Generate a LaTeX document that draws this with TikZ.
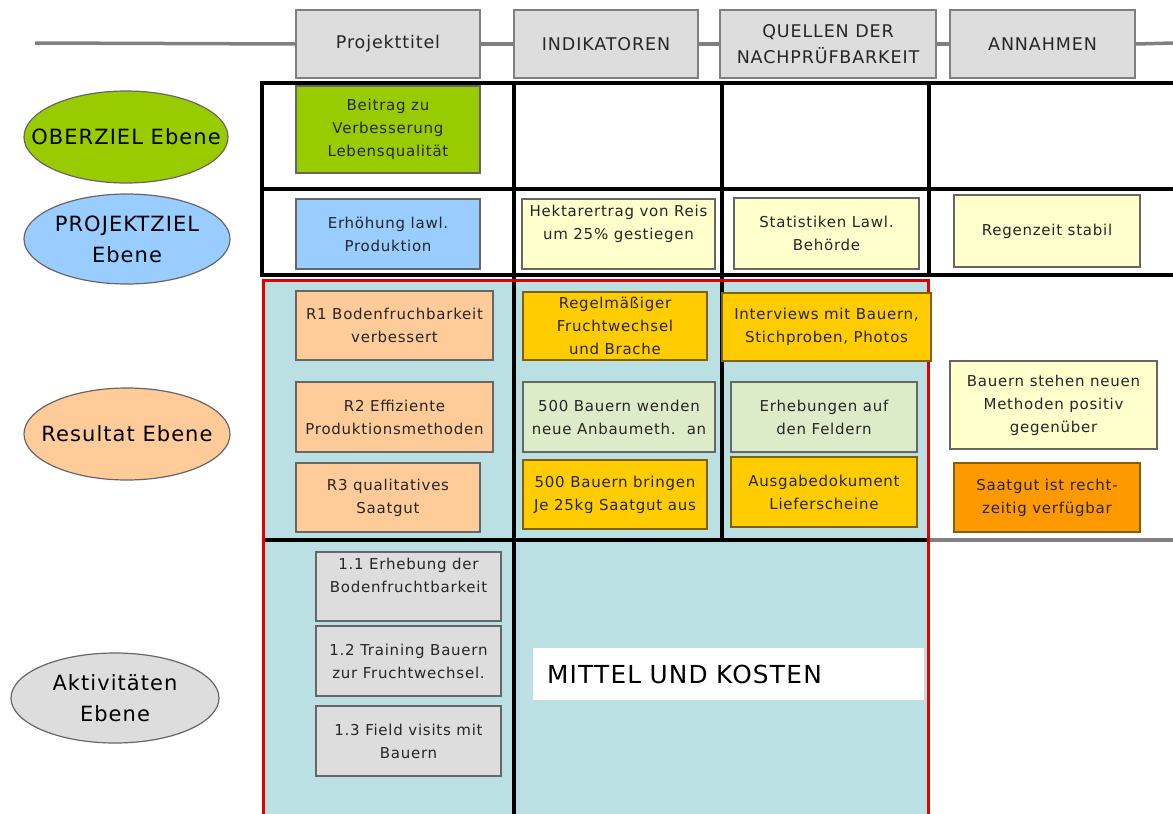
\documentclass[tikz,border=0pt]{standalone}
\usepackage{fontspec}
\setmainfont{DejaVu Sans}[LetterSpace=5]
\usetikzlibrary{shapes.geometric}
\definecolor{hdrfill}{HTML}{DDDDDD}
\definecolor{hdrline}{HTML}{7F7F7F}
\definecolor{boxline}{HTML}{666666}
\definecolor{goldline}{HTML}{806000}
\definecolor{textc}{HTML}{262626}
\definecolor{cgreen}{HTML}{99CC00}
\definecolor{cblue}{HTML}{99CCFF}
\definecolor{cpeach}{HTML}{FFCC99}
\definecolor{cpale}{HTML}{FFFFCC}
\definecolor{cgold}{HTML}{FFCC00}
\definecolor{clgreen}{HTML}{DCECC8}
\definecolor{corange}{HTML}{FF9900}
\definecolor{cgray}{HTML}{DDDDDD}
\definecolor{lblue}{HTML}{BAE0E3}
\definecolor{cred}{HTML}{E00000}
\definecolor{gridgray}{HTML}{808080}
\newcommand{\zw}[1]{\makebox[0pt]{#1}}
\begin{document}
\begin{tikzpicture}[x=1pt,y=-1pt,
  hdr/.style={rectangle, draw=hdrline, fill=hdrfill, line width=1.5pt, inner sep=0pt,
    align=center, text=textc, font=\fontsize{17.5}{26}\selectfont},
  lvl/.style={ellipse, draw=boxline, line width=1.2pt, inner sep=0pt, align=center,
    text=black, font=\fontsize{21}{31}\selectfont},
  cell/.style={rectangle, draw=boxline, line width=2pt, inner sep=0pt, align=center,
    text=textc, font=\fontsize{15}{23}\selectfont},
  goldcell/.style={cell, draw=goldline},
  gridline/.style={line width=4pt, black},
  sepline/.style={line width=3.5pt, gridgray},
  redline/.style={line width=3pt, cred}
]
\useasboundingbox (0,0) rectangle (1173,814);
\fill[white] (0,0) rectangle (1173,814);

% header
\node[hdr, minimum width=184, minimum height=68] (hP) at (388,44) {Projekttitel};
\node[hdr, minimum width=184, minimum height=68] (hI) at (606,44) {INDIKATOREN};
\node[hdr, minimum width=216, minimum height=68] (hQ) at (828,44) {QUELLEN DER\\NACHPRÜFBARKEIT};
\node[hdr, minimum width=185, minimum height=68] (hA) at (1042.5,44) {ANNAHMEN};
\coordinate (lineL) at (35,43);
\coordinate (lineR) at (1173,43);
\draw[sepline] (lineL) -- (hP.west);
\draw[sepline] (hP.east) -- (hI.west);
\draw[sepline] (hI.east) -- (hQ.west);
\draw[sepline] (hQ.east) -- (hA.west);
\draw[sepline] (hA.east) -- (lineR);

% grid
\fill[lblue] (262,280) rectangle (929,814);
\draw[gridline] (260,83) -- (1173,83);
\draw[gridline] (262,189) -- (1173,189);
\draw[gridline] (260,275) -- (1173,275);
\draw[gridline] (262,81) -- (262,277);
\draw[gridline] (514,81) -- (514,814);
\draw[gridline] (722,81) -- (722,542);
\draw[gridline] (929,81) -- (929,277);
\draw[gridline] (262,540) -- (929,540);
\draw[sepline] (929,540) -- (1173,540);
\draw[redline] (263.5,814) -- (263.5,280) -- (928,280) -- (928,814);

% level ellipses
\node[lvl, fill=cgreen, minimum width=204, minimum height=92] (eO) at (126,137) {\zw{OBERZIEL Ebene}};
\node[lvl, fill=cblue, minimum width=206, minimum height=90] (eP) at (127,239) {\zw{PROJEKTZIEL}\\\zw{Ebene}};
\node[lvl, fill=cpeach, minimum width=206, minimum height=92] (eR) at (127,434) {\zw{Resultat Ebene}};
\node[lvl, fill=cgray, minimum width=208, minimum height=90] (eA) at (115,698) {\zw{Aktivitäten}\\\zw{Ebene}};

% row 1
\node[cell, fill=cgreen, minimum width=184, minimum height=87] (bBeitrag) at (388,129.5) {Beitrag zu\\Verbesserung\\Lebensqualität};
% row 2
\node[cell, fill=cblue, minimum width=184, minimum height=70] (bErh) at (388,234) {Erhöhung lawl.\\Produktion};
\node[cell, fill=cpale, minimum width=193, minimum height=70] (bHekt) at (618.5,234) {Hektarertrag von Reis\\um 25\% gestiegen\\\mbox{}};
\node[cell, fill=cpale, minimum width=185, minimum height=71] (bStat) at (826.5,233.5) {Statistiken Lawl.\\Behörde};
\node[cell, fill=cpale, minimum width=186, minimum height=72] (bRegen) at (1047,231) {Regenzeit stabil};
% row 3
\node[cell, fill=cpeach, minimum width=197, minimum height=69] (bR1) at (394.5,325.5) {R1 Bodenfruchbarkeit\\verbessert};
\node[cell, fill=cpeach, minimum width=197, minimum height=70] (bR2) at (394.5,417) {R2 Effiziente\\Produktionsmethoden};
\node[cell, fill=cpeach, minimum width=184, minimum height=69] (bR3) at (388,497.5) {R3 qualitatives\\Saatgut};
\node[goldcell, fill=cgold, minimum width=184, minimum height=68] (bRegel) at (615,326) {Regelmäßiger\\Fruchtwechsel\\und Brache};
\node[cell, fill=clgreen, minimum width=192, minimum height=70] (b500w) at (619,417) {500 Bauern wenden\\neue Anbaumeth.~~an};
\node[goldcell, fill=cgold, minimum width=184, minimum height=69] (b500b) at (615,494.5) {500 Bauern bringen\\Je 25kg Saatgut aus};
\node[goldcell, fill=cgold, minimum width=209, minimum height=68] (bInt) at (826.5,327) {Interviews mit Bauern,\\Stichproben, Photos};
\node[cell, fill=clgreen, minimum width=186, minimum height=70] (bErheb) at (824,417) {Erhebungen auf\\den Feldern};
\node[goldcell, fill=cgold, minimum width=186, minimum height=70] (bAusg) at (824,492) {Ausgabedokument\\Lieferscheine};
\node[cell, fill=cpale, minimum width=207, minimum height=88] (bBauern) at (1053.5,405) {Bauern stehen neuen\\Methoden positiv\\gegenüber};
\node[goldcell, fill=corange, minimum width=186, minimum height=69] (bSaat) at (1047,497.5) {Saatgut ist recht-\\zeitig verfügbar};
% row 4
\node[cell, fill=cgray, minimum width=185, minimum height=69] (a11) at (408.5,586.5) {1.1 Erhebung der\\Bodenfruchtbarkeit\\\mbox{}};
\node[cell, fill=cgray, minimum width=185, minimum height=70] (a12) at (408.5,661) {1.2 Training Bauern\\zur Fruchtwechsel.};
\node[cell, fill=cgray, minimum width=185, minimum height=70] (a13) at (408.5,741) {1.3 Field visits mit\\Bauern};
\node[rectangle, fill=white, inner xsep=14pt, inner ysep=0pt, minimum height=52,
  text width=363, align=left, text=black, font=\fontsize{24.8}{28}\selectfont] (mittel) at (728.5,674) {MITTEL UND KOSTEN};
\end{tikzpicture}
\end{document}
